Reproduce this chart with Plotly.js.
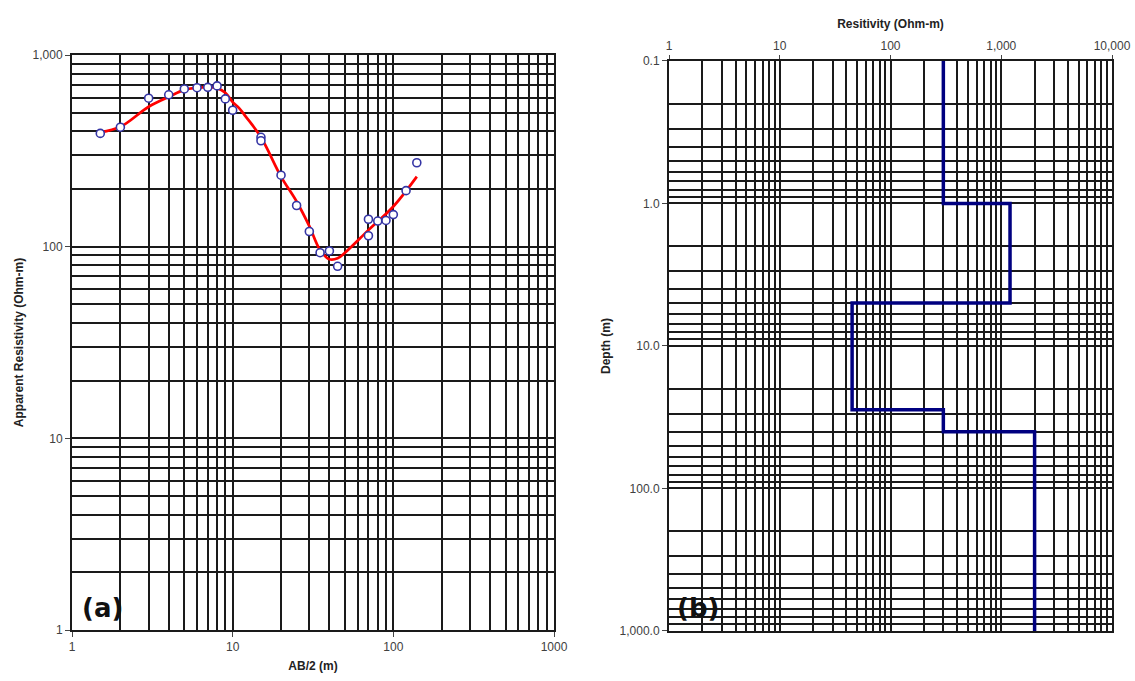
<!DOCTYPE html>
<html>
<head>
<meta charset="utf-8">
<script src="https://cdn.plot.ly/plotly-3.0.1.min.js"></script>
<style>html,body{margin:0;padding:0;background:#fff;}#chart{width:1135px;height:681px;}</style>
</head>
<body>
<div id="chart"></div>
<script>
// (a) field data: AB/2 (m) vs apparent resistivity (Ohm-m)
const abHalf = [1.5, 2, 3, 4, 5, 6, 7, 8, 9, 10, 15, 15, 20, 25, 30, 35, 40, 45, 70, 70, 80, 90, 100, 120, 140];
const appRes = [390, 420, 595, 620, 665, 675, 678, 690, 590, 515, 372, 357, 236, 164, 120, 93, 95, 79, 139, 114, 136, 137, 147, 196, 274];
// (a) fitted model curve
const fitX = [1.5, 2, 3, 4, 5, 6, 7, 8, 9, 10, 11, 12, 15, 20, 25, 30, 35, 40, 45, 50, 70, 100, 140];
const fitY = [395, 422, 537, 605, 658, 675, 680, 672, 635, 568, 527, 480, 372, 232, 172, 128, 96, 86, 87, 93, 122, 162, 232];
// (b) layered model: resistivity (Ohm-m) and layer depths (m)
const layerRes = [300, 1200, 45, 300, 2000];
const layerTop = [0.1, 1, 5, 28, 40];
const layerBottom = [1, 5, 28, 40, 1000];

// tick labels
const aXTicks = [1, 10, 100, 1000];
const aXText = ["1", "10", "100", "1000"];
const aYTicks = [1, 10, 100, 1000];
const aYText = ["1", "10", "100", "1,000"];
const bXTicks = [1, 10, 100, 1000, 10000];
const bXText = ["1", "10", "100", "1,000", "10,000"];
const bYTicks = [0.1, 1, 10, 100, 1000];
const bYText = ["0.1", "1.0", "10.0", "100.0", "1,000.0"];
const mult = [2, 3, 4, 5, 6, 7, 8, 9];

function minorVals(decades) {
  const out = [];
  decades.forEach(d => mult.forEach(m => out.push(d * m)));
  return out;
}

// build step line from layers
const stepX = [], stepY = [];
for (let i = 0; i < layerRes.length; i++) {
  stepX.push(layerRes[i]); stepY.push(layerTop[i]);
  stepX.push(layerRes[i]); stepY.push(layerBottom[i]);
}

const tickFont = {family: "Liberation Sans, Arial, sans-serif", size: 12, color: "#404040"};
const titleFont = {family: "Liberation Sans, Arial, sans-serif", size: 12, color: "#222", weight: "bold"};

const traces = [
  {x: fitX, y: fitY, type: "scatter", mode: "lines", line: {color: "#ff0000", width: 2.7, shape: "spline", smoothing: 1}, xaxis: "x", yaxis: "y", hoverinfo: "skip"},
  {x: abHalf, y: appRes, type: "scatter", mode: "markers", marker: {symbol: "circle", size: 8, color: "#ffffff", line: {color: "#3535a5", width: 1.6}}, xaxis: "x", yaxis: "y"},
  {x: stepX, y: stepY, type: "scatter", mode: "lines", line: {color: "#000080", width: 3.5}, xaxis: "x2", yaxis: "y2"}
];

const GW = 2;
const gridCommon = {
  type: "log", showgrid: true, gridcolor: "#1a1a1a", gridwidth: GW,
  showline: true, linecolor: "#1a1a1a", linewidth: GW, mirror: true,
  ticks: "outside", ticklen: 5, tickcolor: "#444", tickwidth: 1,
  tickfont: tickFont, zeroline: false, tickmode: "array", automargin: false
};
function minorGrid(decades) {
  return {tickmode: "array", tickvals: minorVals(decades), showgrid: true, gridcolor: "#1a1a1a", gridwidth: GW, ticks: ""};
}

const layout = {
  width: 1135, height: 681,
  margin: {l: 40, r: 20, t: 40, b: 40},
  paper_bgcolor: "#fff", plot_bgcolor: "#fff",
  showlegend: false,
  xaxis: Object.assign({}, gridCommon, {
    domain: [0.02977, 0.47814], range: [0, 3], anchor: "y",
    tickvals: aXTicks, ticktext: aXText, minor: minorGrid([1, 10, 100]),
    title: {text: "AB/2 (m)", font: titleFont, standoff: 8}
  }),
  yaxis: Object.assign({}, gridCommon, {
    domain: [0.0183, 0.97504], range: [0, 3], anchor: "x",
    tickvals: aYTicks, ticktext: aYText, minor: minorGrid([1, 10, 100]),
    title: {text: "Apparent Resistivity (Ohm-m)", font: titleFont, standoff: 6}
  }),
  xaxis2: Object.assign({}, gridCommon, {
    domain: [0.58512, 0.99721], range: [0, 4], anchor: "y2", side: "top",
    tickvals: bXTicks, ticktext: bXText, ticklen: 4, minor: minorGrid([1, 10, 100, 1000]),
    title: {text: "Resitivity (Ohm-m)", font: titleFont, standoff: 8}
  }),
  yaxis2: Object.assign({}, gridCommon, {
    domain: [0.01664, 0.96506], range: [3, -1], anchor: "x2",
    tickvals: bYTicks, ticktext: bYText, minor: minorGrid([0.1, 1, 10, 100]),
    title: {text: "Depth (m)", font: titleFont, standoff: 6}
  }),
  annotations: [
    {text: "(a)", xref: "paper", yref: "paper", x: 0.0577, y: 0.055, xanchor: "center", yanchor: "middle", showarrow: false, font: {family: "DejaVu Sans", size: 26, color: "#111", weight: "bold"}},
    {text: "(b)", xref: "paper", yref: "paper", x: 0.6121, y: 0.055, xanchor: "center", yanchor: "middle", showarrow: false, font: {family: "DejaVu Sans", size: 26, color: "#111", weight: "bold"}}
  ]
};

Plotly.newPlot("chart", traces, layout, {staticPlot: true, displayModeBar: false});
</script>
</body>
</html>
